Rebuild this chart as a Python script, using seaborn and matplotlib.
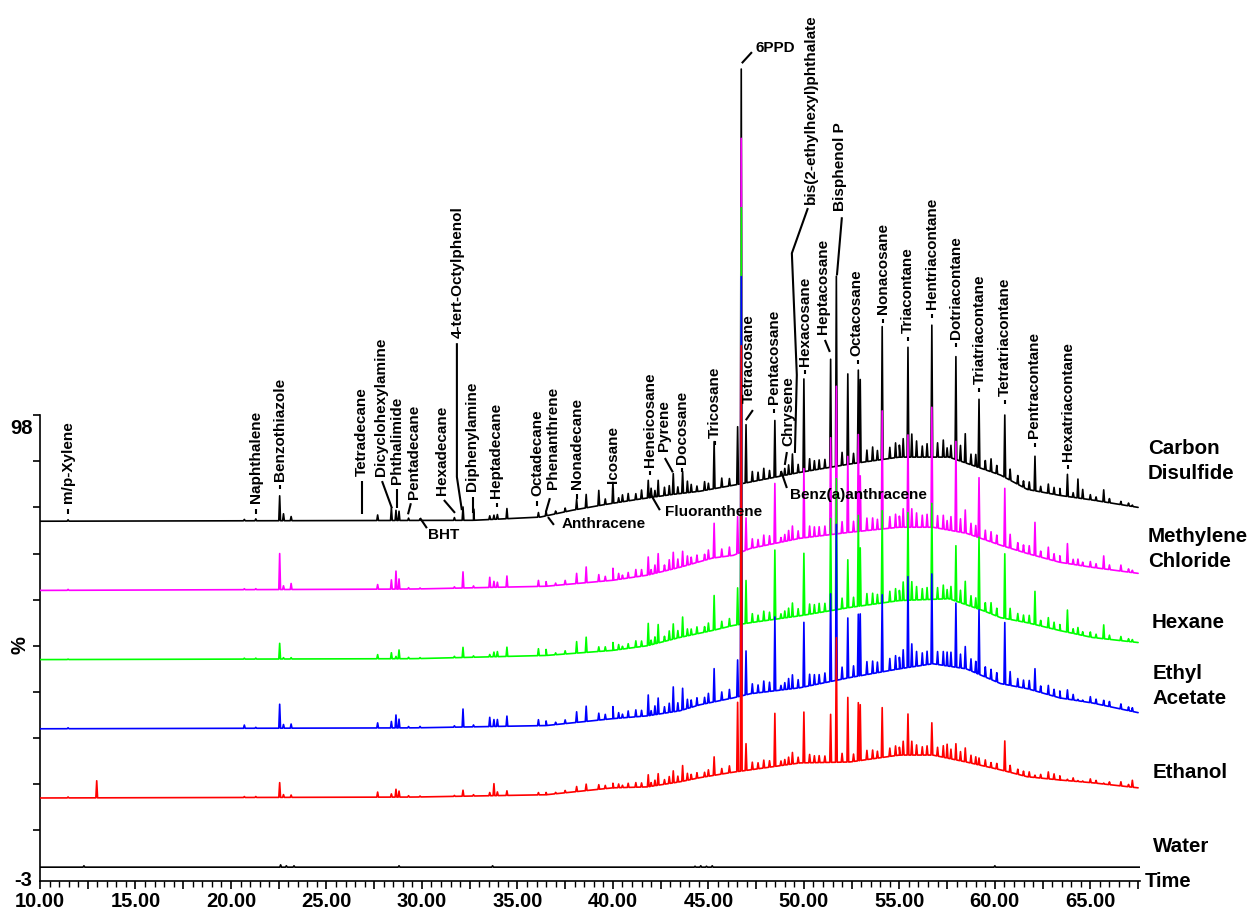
import numpy as np
import pandas as pd
import matplotlib
matplotlib.use("Agg")
import matplotlib.pyplot as plt
import seaborn as sns
from matplotlib.ticker import MultipleLocator, FuncFormatter

# ---------------- data ----------------
solvents = ["Carbon\nDisulfide", "Methylene\nChloride", "Hexane", "Ethyl\nAcetate", "Ethanol", "Water"]
offsets = [75, 60, 45, 30, 15, 0]
colors = ["#000000", "#ff00ff", "#00ff00", "#0000ff", "#ff0000", "#000000"]

# baseline knots (time, % above trace offset)
cs2_bl_t = [10, 32.7, 36.2, 37.9, 39.7, 41.4, 43.1, 44.55, 46.3, 47.2, 49.8, 52.4, 55.0, 57.6, 59.4, 60.3, 61.7, 63.4, 65.1, 67.5]
cs2_bl_y = [0, 0.2, 0.9, 2.4, 3.7, 4.8, 5.8, 6.5, 7.8, 8.5, 10.6, 12.4, 13.9, 13.9, 11.3, 10.0, 6.9, 5.6, 4.6, 3.0]
mc_bl_t = [10, 29.6, 36.5, 40.0, 41.8, 43.5, 45.2, 46.3, 47.2, 49.8, 52.4, 55.0, 56.75, 58.5, 60.3, 61.7, 63.4, 65.1, 67.5]
mc_bl_y = [0, 0.3, 0.9, 2.2, 3.3, 5.0, 7.0, 7.6, 9.1, 11.3, 12.6, 13.7, 13.7, 12.4, 9.8, 8.0, 6.1, 5.0, 3.7]
hex_bl_t = [10, 29.6, 36.5, 40.0, 41.8, 43.5, 45.2, 46.3, 47.2, 49.8, 52.4, 55.0, 57.6, 59.4, 60.3, 61.7, 63.4, 65.1, 67.5]
hex_bl_y = [0, 0.2, 0.9, 2.0, 3.0, 4.8, 6.3, 7.4, 8.0, 9.5, 11.3, 12.8, 13.2, 10.6, 9.1, 8.0, 6.3, 4.8, 3.7]
ea_bl_t = [10, 29.6, 36.5, 40.0, 41.8, 43.5, 44.55, 46.3, 47.2, 49.8, 52.4, 55.0, 56.75, 58.5, 60.3, 61.7, 63.4, 65.1, 67.5]
ea_bl_y = [0, 0.2, 0.7, 2.2, 2.8, 3.9, 5.2, 6.7, 7.6, 8.9, 11.1, 13.0, 14.1, 13.0, 9.8, 8.7, 6.7, 5.6, 3.5]
etoh_bl_t = [10, 29.6, 36.5, 40.0, 41.8, 43.5, 44.55, 46.3, 47.2, 49.8, 52.4, 55.0, 56.75, 58.5, 60.3, 61.7, 63.4, 65.1, 67.5]
etoh_bl_y = [0, 0.2, 0.7, 2.2, 2.4, 3.5, 4.4, 5.6, 6.1, 7.6, 7.8, 9.3, 9.3, 7.8, 6.1, 4.6, 3.9, 3.3, 2.2]
water_bl_t = [10, 67.6]
water_bl_y = [0, 0]

# main peaks: retention times and heights (% above local baseline) per solvent
peak_times = [11.47, 12.97, 20.7, 21.3, 22.55, 22.75, 23.15, 27.68, 28.4, 28.64, 28.8, 29.3, 29.9, 31.7,
              32.15, 32.7, 33.55, 33.77, 33.95, 34.45, 36.1, 36.5, 38.1, 38.6, 39.26, 40.0, 40.5, 41.85,
              42.0, 42.37, 42.95, 43.16, 43.65, 43.9, 45.3, 46.53, 46.72, 46.97, 48.48, 48.8, 49.0, 49.4,
              50.0, 50.8, 51.4, 51.7, 52.3, 52.85, 52.95, 54.1, 55.2, 55.45, 55.65, 56.7, 57.3, 57.5,
              57.96, 58.45, 59.17, 59.8, 60.52, 60.8, 62.1, 62.8, 63.1, 63.8, 64.35, 64.6, 65.7, 66.6, 67.2]
cs2_h = [0.3, 0, 0.3, 0.4, 5.4, 1.5, 0.9, 1.2, 2.7, 2.2, 2.0, 0.5, 0.3, 0.6,
         2.9, 2.5, 0.8, 0.9, 1.0, 2.2, 1.0, 1.0, 2.2, 2.9, 3.3, 4.5, 1.5, 3.8,
         2.0, 3.5, 2.0, 4.5, 4.7, 2.5, 10.2, 12.5, 89.9, 12.6, 12.3, 0.8, 1.5, 4.3,
         20.1, 2.0, 23.4, 41.2, 19.6, 20.1, 18.0, 28.8, 4.0, 23.8, 5.0, 28.6, 3.7, 2.0,
         22.3, 6.3, 14.8, 2.8, 13.5, 2.4, 7.5, 2.0, 1.5, 4.8, 4.1, 2.0, 2.6, 0.7, 0.3]
mc_h = [0.2, 0, 0.2, 0.2, 7.8, 0.8, 1.3, 1.0, 2.0, 3.9, 2.2, 0.3, 0.2, 0.3,
        3.5, 0.4, 2.2, 1.3, 1.1, 2.4, 1.3, 1.0, 2.2, 3.4, 1.5, 2.6, 0.8, 3.9,
        1.0, 4.1, 2.2, 3.6, 3.3, 2.0, 7.5, 8.0, 89.7, 7.0, 13.0, 1.0, 1.5, 3.0,
        15.0, 2.0, 21.0, 32.0, 16.5, 21.0, 12.0, 25.6, 4.0, 20.0, 4.0, 26.0, 3.0, 2.0,
        19.5, 5.0, 13.0, 2.2, 12.6, 3.0, 7.2, 2.6, 1.5, 4.3, 1.3, 0.8, 2.8, 1.3, 0.5]
hex_h = [0.1, 0, 0.2, 0.2, 3.4, 0.3, 0.3, 0.9, 1.3, 0.5, 1.9, 0.3, 0.2, 0.3,
         2.2, 0.3, 0.5, 1.0, 1.1, 2.0, 1.5, 1.3, 2.5, 3.3, 1.0, 1.7, 0.6, 4.8,
         1.0, 4.0, 2.0, 3.3, 4.3, 1.5, 7.5, 8.0, 90.3, 9.3, 15.0, 1.0, 1.5, 3.0,
         13.4, 2.0, 20.0, 28.4, 10.4, 19.7, 12.6, 20.0, 4.0, 19.0, 4.0, 20.8, 3.0, 2.0,
         12.0, 5.0, 15.6, 2.4, 14.0, 2.4, 7.2, 2.2, 1.5, 4.8, 1.5, 0.8, 3.0, 0.9, 0.5]
ea_h = [0.2, 0, 0.7, 0.2, 5.2, 0.8, 0.9, 1.1, 1.4, 2.8, 1.9, 0.3, 0.3, 0.3,
        3.9, 0.4, 2.0, 1.5, 1.5, 2.2, 1.3, 1.0, 2.3, 3.3, 1.5, 2.6, 0.8, 4.5,
        1.0, 3.5, 2.0, 5.4, 4.7, 2.0, 7.2, 8.0, 90.9, 9.5, 16.0, 1.0, 1.5, 3.0,
        14.0, 2.0, 19.0, 33.8, 13.0, 13.4, 13.4, 16.7, 4.0, 19.7, 5.0, 19.5, 3.0, 3.0,
        13.9, 4.8, 14.0, 2.2, 13.4, 3.0, 4.8, 2.0, 1.5, 2.0, 0.3, 0.3, 1.1, 1.1, 0.8]
etoh_h = [0.2, 3.7, 0.2, 0.2, 3.2, 0.6, 0.5, 1.1, 0.7, 1.7, 1.3, 0.3, 0.2, 0.2,
          1.3, 0.3, 0.7, 2.6, 0.8, 1.0, 0.5, 0.5, 1.1, 1.4, 1.0, 1.0, 0.5, 2.6,
          0.8, 2.5, 1.5, 2.6, 3.4, 1.5, 4.0, 15.0, 92.2, 5.8, 11.5, 1.0, 1.2, 2.5,
          11.0, 1.5, 10.4, 27.0, 14.0, 12.6, 12.1, 10.8, 3.0, 8.9, 3.0, 7.0, 2.5, 3.0,
          3.5, 3.0, 1.5, 1.1, 6.5, 1.5, 0.5, 1.5, 1.2, 0.3, 0.2, 0.2, 0.2, 0.9, 1.5]

# small "grass" peaks on the hump
minor_t = [37.0, 37.5, 39.6, 40.3, 40.8, 41.2, 41.5, 42.2, 42.7, 43.4, 44.1, 44.4, 44.8, 45.0, 45.7,
           46.1, 47.3, 47.6, 47.9, 48.2, 49.2, 49.7, 50.3, 50.55, 51.1, 52.0, 52.6, 53.3, 53.6, 53.85,
           54.5, 54.8, 55.0, 55.9, 56.2, 56.45, 57.0, 57.7, 58.2, 58.75, 59.0, 59.5, 60.1, 61.2, 61.5,
           61.8, 62.4, 63.4, 64.1, 65.0, 65.3, 66.0, 67.0]
cs2_minor = [0.6, 0.8, 1.2, 1.0, 1.6, 1.3, 1.9, 1.4, 1.8, 1.5, 1.7, 1.2, 1.9, 1.4, 2.0, 1.6, 2.2, 1.8,
             2.4, 1.7, 2.1, 1.8, 2.6, 2.0, 1.9, 2.8, 2.2, 2.5, 3.0, 2.1, 2.4, 3.2, 2.6, 3.5, 2.4, 2.9,
             3.1, 2.7, 3.4, 2.3, 2.6, 2.0, 1.8, 1.9, 1.4, 1.7, 1.2, 1.5, 1.0, 1.1, 0.8, 0.9, 0.6]
mc_minor = [0.5, 0.9, 1.0, 1.3, 1.2, 1.6, 1.4, 1.8, 1.3, 1.9, 1.5, 1.6, 1.3, 2.0, 1.7, 1.9, 2.0, 1.6,
            2.3, 1.9, 2.2, 1.7, 2.4, 2.1, 2.0, 2.5, 2.3, 2.7, 2.6, 2.2, 2.5, 2.9, 2.4, 3.1, 2.6, 2.8,
            2.7, 3.0, 2.9, 2.5, 2.4, 2.1, 1.9, 1.7, 1.6, 1.8, 1.3, 1.4, 1.1, 1.2, 0.9, 1.0, 0.7]
hex_minor = [0.4, 0.7, 0.9, 1.1, 1.0, 1.4, 1.2, 1.5, 1.1, 1.6, 1.3, 1.5, 1.2, 1.8, 1.5, 1.7, 1.9, 1.4,
             2.1, 1.7, 2.0, 1.6, 2.2, 1.9, 1.8, 2.3, 2.1, 2.5, 2.4, 2.0, 2.3, 2.7, 2.2, 2.9, 2.4, 2.6,
             2.5, 2.8, 2.7, 2.3, 2.2, 1.9, 1.7, 1.6, 1.5, 1.7, 1.2, 1.3, 1.0, 1.1, 0.8, 0.9, 0.6]
ea_minor = [0.5, 0.8, 1.1, 1.2, 1.4, 1.5, 1.3, 1.9, 1.4, 1.8, 1.6, 1.7, 1.4, 2.1, 1.8, 2.0, 2.1, 1.7,
            2.4, 2.0, 2.3, 1.8, 2.5, 2.2, 2.1, 2.6, 2.4, 2.8, 2.7, 2.3, 2.6, 3.0, 2.5, 3.2, 2.7, 2.9,
            2.8, 3.1, 3.0, 2.6, 2.5, 2.2, 2.0, 1.8, 1.7, 1.9, 1.4, 1.5, 1.2, 1.3, 1.0, 1.1, 0.8]
etoh_minor = [0.3, 0.5, 0.7, 0.8, 0.9, 1.0, 0.9, 1.2, 1.0, 1.3, 1.1, 1.2, 1.0, 1.4, 1.2, 1.5, 1.6, 1.3,
              1.7, 1.4, 1.6, 1.3, 1.8, 1.5, 1.4, 1.9, 1.6, 2.0, 1.9, 1.5, 1.8, 2.1, 1.7, 2.2, 1.8, 2.0,
              1.9, 2.1, 2.0, 1.7, 1.6, 1.4, 1.2, 1.1, 1.0, 1.1, 0.8, 0.9, 0.7, 0.8, 0.6, 0.6, 0.5]
water_peak_t = [12.3, 22.6, 22.9, 23.3, 28.8, 33.7, 44.3, 44.6, 44.9, 45.2, 60.0]
water_peak_h = [0.3, 0.5, 0.3, 0.3, 0.3, 0.3, 0.2, 0.3, 0.2, 0.3, 0.3]

# compound labels: (text, time, label bottom %, leader points)
vert_labels = [
    ("m/p-Xylene", 11.47, 78.9, [(11.47, 77.6), (11.47, 76.5)]),
    ("Naphthalene", 21.31, 78.9, [(21.31, 77.6), (21.31, 76.5)]),
    ("Benzothiazole", 22.57, 83.7, [(22.57, 82.8), (22.57, 82.0)]),
    ("Tetradecane", 26.86, 84.8, [(26.86, 83.7), (26.86, 76.5)]),
    ("Dicyclohexylamine", 27.85, 84.8, [(27.91, 83.7), (28.43, 77.8)]),
    ("Phthalimide", 28.69, 83.0, [(28.69, 82.0), (28.69, 77.8)]),
    ("Pentadecane", 29.58, 79.8, [(29.42, 78.9), (29.27, 76.5)]),
    ("Hexadecane", 31.05, 80.7, [(31.15, 79.6), (31.73, 76.8)]),
    ("4-tert-Octylphenol", 31.88, 114.7, [(31.83, 113.6), (31.83, 84.6), (32.09, 77.4)]),
    ("Diphenylamine", 32.62, 81.5, [(32.67, 80.2), (32.67, 76.8)]),
    ("Heptadecane", 33.87, 80.0, [(33.92, 78.9), (33.92, 78.1)]),
    ("Octadecane", 36.02, 80.4, [(36.02, 79.4), (36.02, 78.3)]),
    ("Phenanthrene", 36.86, 82.0, [(36.70, 80.0), (36.49, 77.0)]),
    ("Nonadecane", 38.12, 82.0, [(38.12, 80.9), (38.12, 79.8)]),
    ("Icosane", 40.0, 83.3, [(40.0, 82.2), (40.0, 81.3)]),
    ("Heneicosane", 41.94, 86.7, [(41.94, 85.9), (41.94, 85.0)]),
    ("Pyrene", 42.67, 90.2, [(42.72, 88.7), (43.14, 85.6)]),
    ("Docosane", 43.61, 87.4, [(43.61, 86.5), (43.61, 85.6)]),
    ("Tricosane", 45.34, 93.0, [(45.34, 92.4), (45.34, 91.5)]),
    ("Tetracosane", 47.12, 100.6, [(47.33, 99.1), (46.96, 96.9)]),
    ("Pentacosane", 48.43, 100.4, [(48.43, 99.3), (48.43, 98.4)]),
    ("Chrysene", 49.21, 91.3, [(49.11, 90.0), (49.0, 87.2)]),
    ("bis(2-ethylhexyl)phthalate", 50.37, 143.7, [(50.21, 142.9), (49.37, 133.1), (49.63, 106.7), (49.53, 89.8)]),
    ("Hexacosane", 50.05, 108.6, [(50.05, 107.8), (50.05, 106.9)]),
    ("Heptacosane", 50.99, 115.6, [(51.10, 114.3), (51.36, 111.7)]),
    ("Bisphenol P", 51.88, 142.2, [(51.99, 140.9), (51.73, 128.3)]),
    ("Octacosane", 52.77, 110.8, [(52.82, 109.9), (52.82, 109.1)]),
    ("Nonacosane", 54.14, 119.9, [(54.12, 118.8), (54.12, 117.9)]),
    ("Triacontane", 55.45, 115.8, [(55.45, 114.9), (55.45, 114.0)]),
    ("Hentriacontane", 56.70, 121.0, [(56.70, 119.9), (56.70, 119.0)]),
    ("Dotriacontane", 57.96, 114.5, [(57.96, 113.6), (57.96, 112.7)]),
    ("Triatriacontane", 59.21, 104.7, [(59.19, 103.9), (59.19, 103.0)]),
    ("Tetratriacontane", 60.52, 102.1, [(60.52, 101.3), (60.52, 100.4)]),
    ("Pentracontane", 62.04, 93.0, [(62.08, 91.9), (62.08, 91.1)]),
    ("Hexatriacontane", 63.82, 88.0, [(63.81, 87.2), (63.81, 86.3)]),
]
horiz_labels = [
    ("BHT", 30.31, 72.0, [(29.90, 75.7), (30.26, 73.5)]),
    ("Anthracene", 37.33, 74.4, [(36.60, 75.9), (36.91, 74.2)]),
    ("Fluoranthene", 42.72, 77.0, [(41.94, 81.1), (42.46, 77.4)]),
    ("Benz(a)anthracene", 49.27, 80.7, [(48.80, 85.9), (49.11, 82.2)]),
    ("6PPD", 47.49, 177.5, [(47.28, 176.7), (46.75, 174.3)]),
]
solvent_label_pos = [(68.01, 88.0), (68.01, 69.0), (68.22, 53.1), (68.27, 39.3), (68.27, 20.6), (68.27, 4.4)]

# ---------------- helpers ----------------
W = 0.045  # half width of a drawn peak (min)


def build_trace(bt, by, pts, phs):
    bt = np.asarray(bt, float)
    by = np.asarray(by, float)
    xs = list(bt)
    ys = list(by)
    for t, h in zip(pts, phs):
        if h <= 0:
            continue
        for dt, add in ((-W, 0.0), (0.0, h), (W, 0.0)):
            xs.append(t + dt)
            ys.append(float(np.interp(t + dt, bt, by)) + add)
    xs = np.asarray(xs)
    ys = np.asarray(ys)
    order = np.argsort(xs, kind="stable")
    return xs[order], ys[order]


traces = [
    (cs2_bl_t, cs2_bl_y, peak_times + minor_t, cs2_h + cs2_minor),
    (mc_bl_t, mc_bl_y, peak_times + minor_t, mc_h + mc_minor),
    (hex_bl_t, hex_bl_y, peak_times + minor_t, hex_h + hex_minor),
    (ea_bl_t, ea_bl_y, peak_times + minor_t, ea_h + ea_minor),
    (etoh_bl_t, etoh_bl_y, peak_times + minor_t, etoh_h + etoh_minor),
    (water_bl_t, water_bl_y, water_peak_t, water_peak_h),
]

# ---------------- plotting ----------------
sns.set_theme(style="white")
plt.rcParams["font.family"] = ["Liberation Sans", "DejaVu Sans"]
plt.rcParams["font.weight"] = "bold"
for key in ("text.color", "axes.labelcolor", "xtick.color", "ytick.color", "axes.edgecolor"):
    plt.rcParams[key] = "black"

fig = plt.figure(figsize=(12.52, 9.13), dpi=100)
ax = fig.add_axes([40 / 1252, 32 / 913, 1100 / 1252, 881 / 913])
ax.set_facecolor("white")

zorders = [2, 3, 4, 5, 6, 2]
for (bt, by, pts, phs), off, col, z in zip(traces, offsets, colors, zorders):
    xs, ys = build_trace(bt, by, pts, phs)
    df = pd.DataFrame({"time": xs, "pct": ys + off})
    sns.lineplot(data=df, x="time", y="pct", color=col, linewidth=1.2, sort=False,
                 estimator=None, ax=ax, zorder=z)

ax.set_xlim(10, 67.6)
ax.set_ylim(-3, 188)
ax.set_xlabel("")
ax.set_ylabel("")

# axes styling
for s in ("top", "right"):
    ax.spines[s].set_visible(False)
for s in ("left", "bottom"):
    ax.spines[s].set_color("black")
    ax.spines[s].set_linewidth(1.2)
ax.spines["left"].set_bounds(-3, 98)

ax.xaxis.set_major_locator(MultipleLocator(2.5))
ax.xaxis.set_minor_locator(MultipleLocator(0.5))
ax.xaxis.set_major_formatter(FuncFormatter(
    lambda v, p: f"{v:.2f}" if abs(v / 5 - round(v / 5)) < 1e-6 else ""))
ax.tick_params(axis="x", which="major", direction="out", length=6, width=1.2, pad=2,
               labelsize=14.5, colors="black", bottom=True)
ax.tick_params(axis="x", which="minor", direction="out", length=4, width=1.0, bottom=True)
for lab in ax.get_xticklabels():
    lab.set_fontweight("bold")
ax.set_yticks(np.arange(8, 99, 10))
ax.set_yticklabels([])
ax.tick_params(axis="y", which="major", direction="out", length=5, width=1.2, left=True)

# y-axis annotations
ax.text(9.6, 95.2, "98", ha="right", va="center", fontsize=14.5, fontweight="bold", clip_on=False)
ax.text(9.6, -2.8, "-3", ha="right", va="center", fontsize=14.5, fontweight="bold", clip_on=False)
ax.text(8.95, 48.2, "%", ha="center", va="center", rotation=90, fontsize=14.5, fontweight="bold", clip_on=False)
ax.text(67.85, -3.0, "Time", ha="left", va="center", fontsize=14.5, fontweight="bold", clip_on=False)

# solvent names
for name, (tx, ty) in zip(solvents, solvent_label_pos):
    ax.text(tx, ty, name, ha="left", va="center", fontsize=14.8, fontweight="bold",
            linespacing=1.4, clip_on=False)

# compound labels and leaders
for text, tx, ty, leader in vert_labels:
    ax.text(tx, ty, text, rotation=90, ha="center", va="bottom", fontsize=11,
            fontweight="bold", zorder=10, clip_on=False)
    lx, ly = zip(*leader)
    ax.plot(lx, ly, color="black", linewidth=1.5, zorder=9, solid_capstyle="butt")
for text, tx, ty, leader in horiz_labels:
    ax.text(tx, ty, text, ha="left", va="center", fontsize=11, fontweight="bold",
            zorder=10, clip_on=False)
    lx, ly = zip(*leader)
    ax.plot(lx, ly, color="black", linewidth=1.5, zorder=9, solid_capstyle="butt")

fig.savefig("out.png", dpi=100, facecolor="white")
